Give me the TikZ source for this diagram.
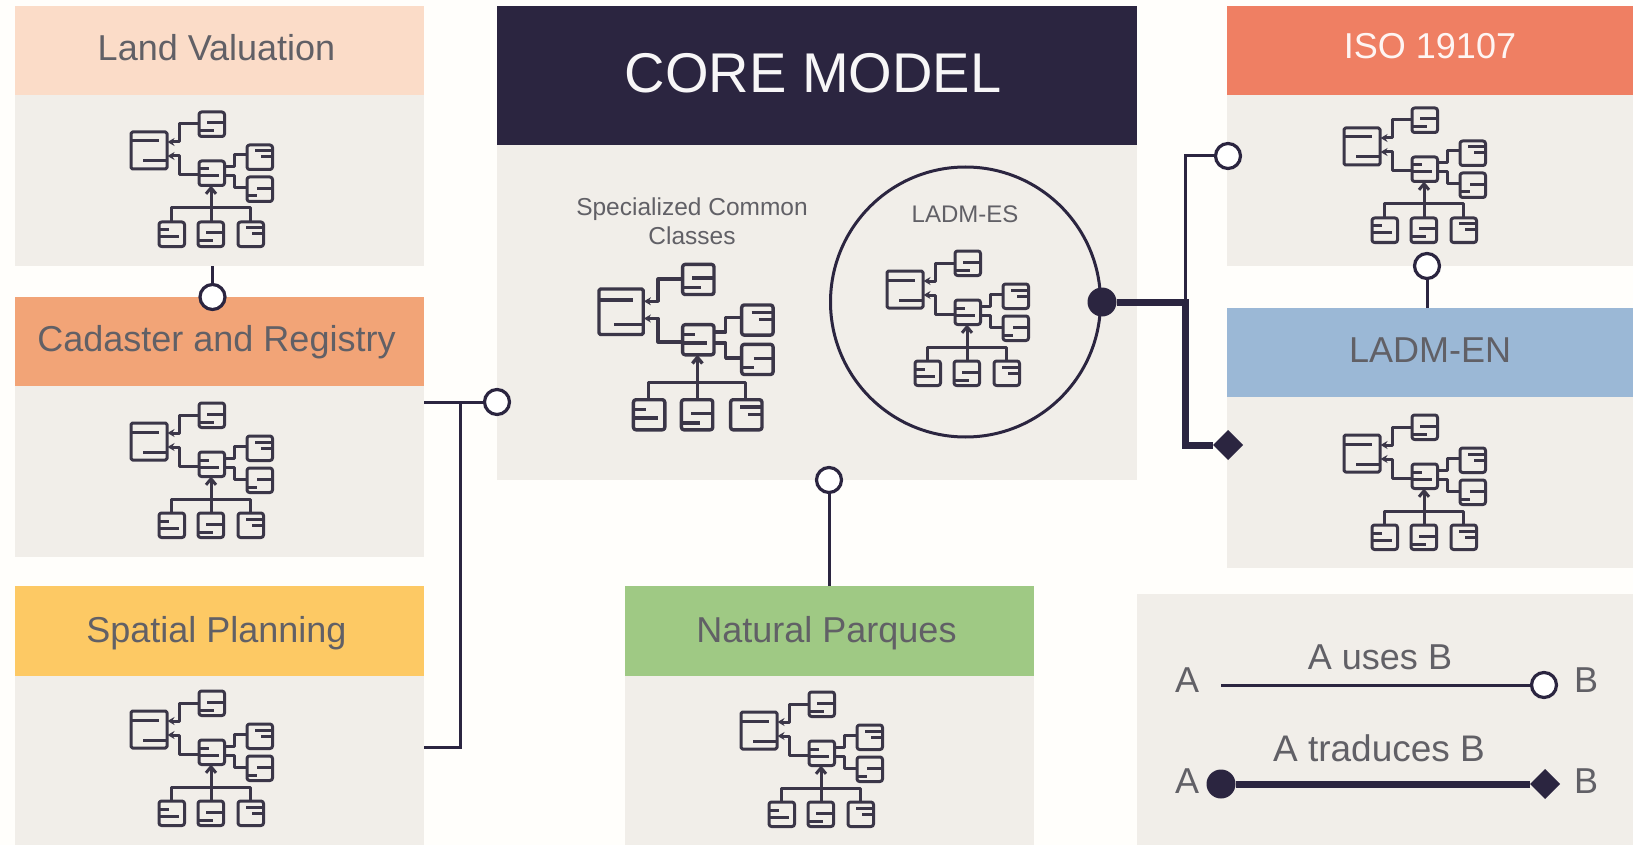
\documentclass[tikz,border=0pt]{standalone}
\usepackage{fontspec}
\setmainfont{Liberation Sans}
\usetikzlibrary{arrows.meta,shapes.geometric}
\definecolor{ink}{HTML}{2B2540}
\definecolor{iconink}{HTML}{3B3648}
\definecolor{paper}{HTML}{FFFEFB}
\definecolor{panel}{HTML}{F1EEE9}
\definecolor{txt}{HTML}{616066}
\definecolor{cland}{HTML}{FBDCC8}
\definecolor{ccad}{HTML}{F2A477}
\definecolor{cspa}{HTML}{FDC964}
\definecolor{cnat}{HTML}{9FC984}
\definecolor{ciso}{HTML}{EF7F63}
\definecolor{cen}{HTML}{9BB8D6}
\newcommand{\fs}[1]{\fontsize{#1}{#1}\selectfont}
\tikzset{
  x=1pt,y=-1pt,
  blockbox/.style={rectangle,anchor=north west,inner sep=0pt,outer sep=0pt},
  panelbox/.style={blockbox,fill=panel},
  headlabel/.style={text=txt,inner sep=0pt,font=\fs{36}},
  usesdot/.style={circle,draw=ink,fill=white,line width=3.2pt,minimum size=25pt,inner sep=0pt,outer sep=0pt},
  soliddot/.style={circle,fill=ink,minimum size=29pt,inner sep=0pt,outer sep=0pt},
  soliddiamond/.style={diamond,aspect=1,fill=ink,minimum width=30pt,minimum height=30pt,inner sep=0pt,outer sep=0pt},
  usesline/.style={draw=ink,line width=3pt},
  traduceline/.style={draw=ink,line width=7pt,line join=miter},
  plaintext/.style={text=txt,inner sep=0pt},
  umlicon/.pic={
    \begin{scope}[draw=iconink,line join=round]
      \draw[rounded corners=1.5pt] (0,0) rectangle (36,37);
      \draw (0,9) -- (28,9) (12,29) -- (36,29);
      \foreach \bx/\by in {68/-20,68/29,116/13,116/45,28/90,67/90,107/90}
        \draw[rounded corners=2.5pt] (\bx,\by) rectangle ++(25.5,24.5);
      \draw (76,-9) -- (93,-9) (68,-1) -- (83,-1);
      \draw (68,37) -- (78,37) (68,44) -- (88,44);
      \draw (124,19) -- (141,19) (130,25) -- (141,25);
      \draw (126,56.5) -- (141,56.5) (116,64) -- (126,64);
      \draw (28,98) -- (38,98) (28,105) -- (48,105);
      \draw (75,101) -- (92,101) (67,109) -- (82,109);
      \draw (115,96) -- (132,96) (121,102) -- (132,102);
      \draw[-{Stealth[length=7pt,width=8pt]}] (68,-8) -- (48,-8) -- (48,10) -- (36.5,10);
      \draw[-{Stealth[length=7pt,width=8pt]}] (68,43) -- (48,43) -- (48,24) -- (36.5,24);
      \draw (93,35) -- (103,35) -- (103,23) -- (116,23);
      \draw (93,44) -- (103,44) -- (103,56) -- (116,56);
      \draw (40,90) -- (40,76) -- (119,76) -- (119,90);
      \draw[-{Straight Barb[length=6pt,width=10pt]}] (80,90) -- (80,53.5);
    \end{scope}
  }
}
\begin{document}
\begin{tikzpicture}
\useasboundingbox (0,0) rectangle (1633,845);
\fill[paper] (0,0) rectangle (1633,845);

% panels
\node[panelbox,minimum width=409pt,minimum height=171pt] (landbody) at (15,95) {};
\node[blockbox,fill=cland,minimum width=409pt,minimum height=89pt] (landhead) at (15,6) {};
\node[panelbox,minimum width=409pt,minimum height=171pt] (cadbody) at (15,386) {};
\node[blockbox,fill=ccad,minimum width=409pt,minimum height=89pt] (cadhead) at (15,297) {};
\node[panelbox,minimum width=409pt,minimum height=169pt] (spabody) at (15,676) {};
\node[blockbox,fill=cspa,minimum width=409pt,minimum height=90pt] (spahead) at (15,586) {};

\node[panelbox,minimum width=640pt,minimum height=335pt] (corebody) at (497,145) {};
\node[blockbox,fill=ink,minimum width=640pt,minimum height=139pt] (corehead) at (497,6) {};

\node[panelbox,minimum width=406pt,minimum height=171pt] (isobody) at (1227,95) {};
\node[blockbox,fill=ciso,minimum width=406pt,minimum height=89pt] (isohead) at (1227,6) {};
\node[panelbox,minimum width=406pt,minimum height=171pt] (enbody) at (1227,397) {};
\node[blockbox,fill=cen,minimum width=406pt,minimum height=89pt] (enhead) at (1227,308) {};

\node[panelbox,minimum width=409pt,minimum height=169pt] (natbody) at (625,676) {};
\node[blockbox,fill=cnat,minimum width=409pt,minimum height=90pt] (nathead) at (625,586) {};

\node[panelbox,minimum width=496pt,minimum height=251pt] (legend) at (1137,594) {};

% header labels
\node[headlabel] (landtext) at (216.5,48) {Land Valuation};
\node[headlabel] (cadtext) at (216.5,342) {Cadaster and Registry};
\node[headlabel] (spatext) at (216.5,633) {Spatial Planning};
\node[headlabel] (nattext) at (826.5,633) {Natural Parques};
\node[headlabel,text=white!92!ciso] (isotext) at (1430,46) {ISO 19107};
\node[headlabel] (entext) at (1430,350.5) {LADM-EN};
\node[text=white!96!ink,inner sep=0pt,font=\fs{56}] (coretext) at (813,73) {CORE MODEL};

% icons
\pic[line width=3pt] at (131,132) {umlicon};
\pic[line width=3pt] at (131,423) {umlicon};
\pic[line width=3pt] at (131,711) {umlicon};
\pic[line width=3pt] at (741,712) {umlicon};
\pic[line width=3pt] at (1344,128) {umlicon};
\pic[line width=3pt] at (1344,435) {umlicon};
\pic[line width=3.4pt,scale=1.23] at (599,289) {umlicon};
\pic[line width=3pt] at (887,271) {umlicon};

% core texts and LADM-ES circle
\node[plaintext,font=\fs{24.5},align=center] (spec) at (692,221) {Specialized Common\\[5pt]Classes};
\node[circle,draw=ink,line width=3pt,minimum size=270pt,inner sep=0pt] (esring) at (965.5,302) {};
\node[plaintext,font=\fs{24}] (esname) at (965,214) {LADM-ES};

% connector ends
\node[usesdot] (dotland) at (212.5,297) {};
\node[usesdot] (dotcore) at (497,402) {};
\node[usesdot] (dotnat) at (829,480) {};
\node[usesdot] (dotiso) at (1228,156) {};
\node[usesdot] (dotenup) at (1427,266) {};
\node[soliddot] (dotes) at (1102,302) {};
\node[soliddiamond] (diaen) at (1228,445) {};

\coordinate (cadout) at (424,402);
\coordinate (spaout) at (424,747);
\coordinate (jleft) at (460,402);
\coordinate (jlow) at (460,747);
\coordinate (jisotop) at (1185,156);
\coordinate (jes) at (1185,302);
\coordinate (jen) at (1185,445);
\coordinate (landout) at (212.5,266);
\coordinate (natout) at (829,586);
\coordinate (enout) at (1427,308);

\draw[usesline] (landout) -- (dotland);
\draw[usesline] (cadout) -- (dotcore);
\draw[usesline] (spaout) -- (jlow) -- (jleft);
\draw[usesline] (natout) -- (dotnat);
\draw[usesline] (enout) -- (dotenup);
\draw[usesline] (jes) -- (jisotop) -- (dotiso);
\draw[traduceline] (dotes) -- (jes) -- (jen) -- (diaen);

% legend
\node[plaintext,font=\fs{36}] (la1) at (1187,680) {A};
\node[plaintext,font=\fs{36}] (lb1) at (1586,680) {B};
\node[plaintext,font=\fs{36}] (la2) at (1187,781) {A};
\node[plaintext,font=\fs{36}] (lb2) at (1586,781) {B};
\node[plaintext,font=\fs{36}] (luses) at (1380,657) {A uses B};
\node[plaintext,font=\fs{37}] (ltrad) at (1379,748) {A traduces B};
\coordinate (lstart) at (1221,685);
\node[usesdot] (ldot1) at (1544,685) {};
\node[soliddot] (ldot2) at (1221,784) {};
\node[soliddiamond] (ldia) at (1545,784) {};
\draw[usesline] (lstart) -- (ldot1);
\draw[traduceline] (ldot2) -- (ldia);
\end{tikzpicture}
\end{document}
